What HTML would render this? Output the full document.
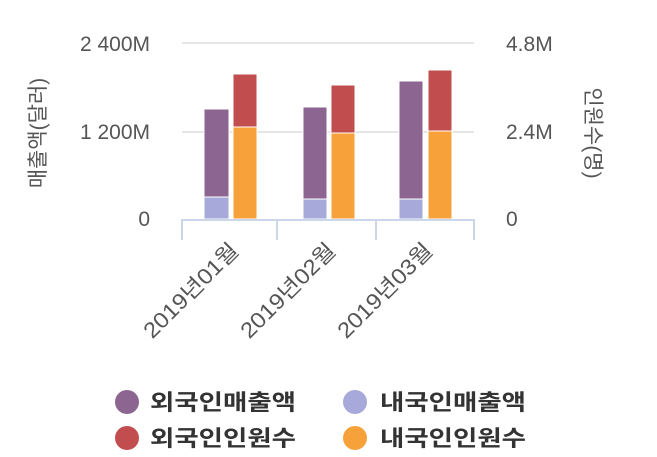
<!DOCTYPE html><html><head><meta charset="utf-8"><style>body{margin:0;background:#fff}svg{display:block}text{font-family:"Liberation Sans","Noto Sans CJK KR",sans-serif}</style></head><body>
<svg width="657" height="457" xmlns="http://www.w3.org/2000/svg">
<line x1="182" y1="43" x2="474" y2="43" stroke="#e6e6e6" stroke-width="2"/>
<line x1="182" y1="132" x2="474" y2="132" stroke="#e6e6e6" stroke-width="2"/>
<g fill="#555" font-size="21">
<text x="150" y="51" text-anchor="end">2 400M</text>
<text x="150" y="139" text-anchor="end">1 200M</text>
<text x="150" y="226" text-anchor="end">0</text>
<text x="506" y="51">4.8M</text>
<text x="506" y="139">2.4M</text>
<text x="506" y="226">0</text>
<text transform="translate(45,133) rotate(-90)" text-anchor="middle">매출액(달러)</text>
<text transform="translate(586,133) rotate(90)" text-anchor="middle">인원수(명)</text>
</g>
<g stroke="#fff" stroke-width="1">
<rect x="204" y="109" width="25" height="88" fill="#8c6590"/><rect x="204" y="197" width="25" height="22" fill="#a6a9d9"/>
<rect x="233" y="74" width="24" height="53" fill="#c14d4e"/><rect x="233" y="127" width="24" height="92" fill="#f7a13b"/>
<rect x="303" y="107" width="24" height="92" fill="#8c6590"/><rect x="303" y="199" width="24" height="20" fill="#a6a9d9"/>
<rect x="331" y="85" width="24" height="48" fill="#c14d4e"/><rect x="331" y="133" width="24" height="86" fill="#f7a13b"/>
<rect x="399" y="81" width="24" height="118" fill="#8c6590"/><rect x="399" y="199" width="24" height="20" fill="#a6a9d9"/>
<rect x="428" y="70" width="24" height="61" fill="#c14d4e"/><rect x="428" y="131" width="24" height="88" fill="#f7a13b"/>
</g>
<g stroke="#ccd6eb" stroke-width="2">
<line x1="181" y1="220" x2="475" y2="220"/>
<line x1="182" y1="220" x2="182" y2="240"/><line x1="277" y1="220" x2="277" y2="240"/>
<line x1="376" y1="220" x2="376" y2="240"/><line x1="474" y1="220" x2="474" y2="240"/>
</g>
<g fill="#555" font-size="22">
<text transform="translate(240,252) rotate(-45)" text-anchor="end" textLength="124" lengthAdjust="spacingAndGlyphs">2019년01월</text>
<text transform="translate(337,252) rotate(-45)" text-anchor="end" textLength="124" lengthAdjust="spacingAndGlyphs">2019년02월</text>
<text transform="translate(434,252) rotate(-45)" text-anchor="end" textLength="124" lengthAdjust="spacingAndGlyphs">2019년03월</text>
</g>
<g font-size="22" font-weight="bold" fill="#333">
<circle cx="127" cy="402" r="12" fill="#8c6590"/><text x="150" y="410" textLength="146" lengthAdjust="spacingAndGlyphs">외국인매출액</text>
<circle cx="355" cy="402" r="12" fill="#a6a9d9"/><text x="380" y="410" textLength="146" lengthAdjust="spacingAndGlyphs">내국인매출액</text>
<circle cx="127" cy="438" r="12" fill="#c14d4e"/><text x="150" y="446" textLength="146" lengthAdjust="spacingAndGlyphs">외국인인원수</text>
<circle cx="355" cy="438" r="12" fill="#f7a13b"/><text x="380" y="446" textLength="146" lengthAdjust="spacingAndGlyphs">내국인인원수</text>
</g>
</svg></body></html>
